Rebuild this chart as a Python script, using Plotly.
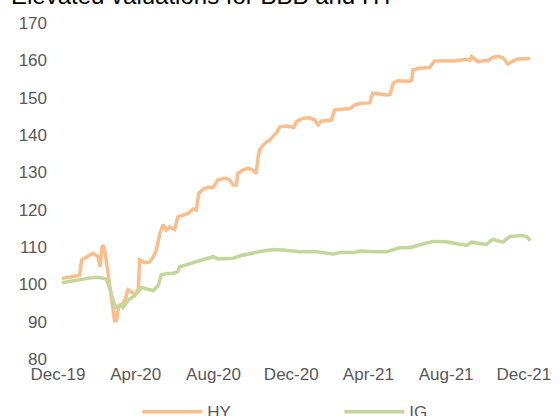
import plotly.graph_objects as go

title_text = "Elevated valuations for BBB and HY"

hy_dates = [
    "2019-12-07", "2019-12-20", "2020-01-04", "2020-01-07", "2020-01-15", "2020-01-25",
    "2020-02-02", "2020-02-05", "2020-02-08", "2020-02-10", "2020-02-13", "2020-02-18",
    "2020-02-23", "2020-02-26", "2020-02-28", "2020-03-02", "2020-03-05", "2020-03-10",
    "2020-03-15", "2020-03-20", "2020-03-25", "2020-03-31", "2020-04-05", "2020-04-07",
    "2020-04-15", "2020-04-23", "2020-04-28", "2020-05-03", "2020-05-09", "2020-05-14",
    "2020-05-19", "2020-05-24", "2020-06-01", "2020-06-06", "2020-06-14", "2020-06-22",
    "2020-06-30", "2020-07-05", "2020-07-09", "2020-07-16", "2020-07-24", "2020-07-31",
    "2020-08-08", "2020-08-19", "2020-08-26", "2020-09-01", "2020-09-06", "2020-09-08",
    "2020-09-16", "2020-09-24", "2020-10-02", "2020-10-07", "2020-10-10", "2020-10-13",
    "2020-10-21", "2020-10-29", "2020-11-08", "2020-11-13", "2020-11-24", "2020-12-05",
    "2020-12-09", "2020-12-20", "2020-12-30", "2021-01-07", "2021-01-12", "2021-01-17",
    "2021-02-02", "2021-02-07", "2021-02-18", "2021-03-03", "2021-03-11", "2021-03-19",
    "2021-04-03", "2021-04-08", "2021-04-19", "2021-04-29", "2021-05-05", "2021-05-10",
    "2021-05-17", "2021-06-05", "2021-06-08", "2021-06-10", "2021-06-21", "2021-07-06",
    "2021-07-14", "2021-07-27", "2021-08-17", "2021-09-02", "2021-09-07", "2021-09-10",
    "2021-09-15", "2021-09-20", "2021-09-28", "2021-10-06", "2021-10-13", "2021-10-21",
    "2021-10-29", "2021-11-04", "2021-11-06", "2021-11-12", "2021-11-20", "2021-11-30",
    "2021-12-11",
]
hy_values = [
    101.6, 101.9, 102.5, 106.5, 107.3, 108.3,
    107.4, 104.7, 110.0, 110.5, 108.4, 102.0,
    96.7, 91.3, 90.0, 90.4, 94.0, 94.5,
    95.8, 98.5, 98.0, 97.1, 98.9, 106.5,
    105.8, 106.0, 107.2, 109.0, 113.7, 116.0,
    114.5, 115.4, 114.7, 118.1, 118.6, 119.0,
    120.2, 119.9, 124.4, 125.5, 126.0, 125.9,
    128.0, 128.4, 128.0, 126.6, 126.6, 129.7,
    130.6, 131.1, 130.6, 129.7, 134.2, 136.2,
    137.8, 138.8, 140.6, 142.2, 142.4, 142.0,
    143.6, 144.5, 144.6, 144.0, 142.7, 143.7,
    144.0, 146.7, 146.9, 147.1, 148.0, 148.5,
    148.6, 151.2, 151.0, 150.7, 150.8, 153.9,
    154.5, 154.4, 154.7, 157.5, 157.9, 158.1,
    159.8, 159.8, 159.9, 160.3, 160.0, 161.0,
    160.2, 159.6, 159.9, 159.9, 160.8, 161.1,
    160.7, 159.6, 159.0, 159.6, 160.3, 160.4,
    160.5,
]

ig_dates = [
    "2019-12-07", "2019-12-20", "2020-01-04", "2020-01-15", "2020-01-31", "2020-02-10",
    "2020-02-15", "2020-02-20", "2020-02-26", "2020-02-29", "2020-03-07", "2020-03-12",
    "2020-03-20", "2020-03-28", "2020-04-05", "2020-04-10", "2020-04-20", "2020-04-28",
    "2020-05-06", "2020-05-11", "2020-05-19", "2020-05-29", "2020-06-06", "2020-06-09",
    "2020-06-19", "2020-07-05", "2020-07-21", "2020-07-31", "2020-08-08", "2020-08-21",
    "2020-09-01", "2020-09-11", "2020-09-27", "2020-10-13", "2020-11-03", "2020-11-18",
    "2020-12-15", "2021-01-09", "2021-02-05", "2021-02-15", "2021-03-08", "2021-03-19",
    "2021-04-13", "2021-04-29", "2021-05-20", "2021-06-05", "2021-06-21", "2021-07-11",
    "2021-08-01", "2021-08-17", "2021-09-02", "2021-09-10", "2021-09-23", "2021-10-03",
    "2021-10-13", "2021-10-29", "2021-11-09", "2021-11-28", "2021-12-06", "2021-12-11",
]
ig_values = [
    100.4, 100.7, 101.2, 101.6, 101.9, 101.6,
    101.4, 99.0, 95.3, 93.8, 94.5, 93.8,
    95.8, 96.7, 98.0, 99.2, 98.7, 98.3,
    99.6, 102.5, 102.9, 102.9, 103.4, 104.7,
    105.2, 106.0, 107.0, 107.4, 106.8, 107.0,
    107.0, 107.6, 108.3, 108.8, 109.3, 109.2,
    108.7, 108.7, 108.1, 108.5, 108.5, 108.9,
    108.7, 108.7, 109.8, 109.8, 110.6, 111.5,
    111.4, 110.8, 110.4, 111.3, 111.0, 110.7,
    112.0, 111.3, 112.8, 113.1, 112.7, 111.7,
]

tick_dates = ["2019-12-01", "2020-04-01", "2020-08-01", "2020-12-01",
              "2021-04-01", "2021-08-01", "2021-12-01"]
tick_labels = ["Dec-19", "Apr-20", "Aug-20", "Dec-20", "Apr-21", "Aug-21", "Dec-21"]

FONT = "Arial, 'Liberation Sans', sans-serif"
GREY = "#595959"

fig = go.Figure()
fig.add_trace(go.Scatter(x=hy_dates, y=hy_values, mode="lines", name="HY",
                         line=dict(color="#FABE8C", width=3.5)))
fig.add_trace(go.Scatter(x=ig_dates, y=ig_values, mode="lines", name="IG",
                         line=dict(color="#C3D69B", width=3.5)))

fig.update_layout(
    width=560, height=416,
    margin=dict(l=58, r=17, t=23, b=57, autoexpand=False),
    paper_bgcolor="white", plot_bgcolor="white",
    font=dict(family=FONT, size=17, color=GREY),
    showlegend=True,
    legend=dict(orientation="h", x=0.58, xanchor="center", y=-0.105, yanchor="top",
                font=dict(size=17, color=GREY), itemwidth=60, entrywidth=127),
    xaxis=dict(type="date", range=["2019-12-01", "2021-12-31"],
               tickvals=tick_dates, ticktext=tick_labels,
               showgrid=False, zeroline=False, showline=False, ticks="",
               ticklabelstandoff=3,
               tickfont=dict(size=17, color=GREY)),
    yaxis=dict(range=[80, 170], dtick=10, tick0=80,
               showgrid=False, zeroline=False, showline=False, ticks="",
               ticklabelstandoff=10,
               tickfont=dict(size=17, color=GREY)),
    annotations=[dict(text=title_text, xref="paper", yref="paper",
                      x=-0.101, y=1.083, xanchor="left", yanchor="middle",
                      showarrow=False, font=dict(size=24, color="#000000", family=FONT))],
)

fig.write_html("out.html", config={"displayModeBar": False},
               post_script="document.body.style.margin='0';document.body.style.overflow='hidden';")
